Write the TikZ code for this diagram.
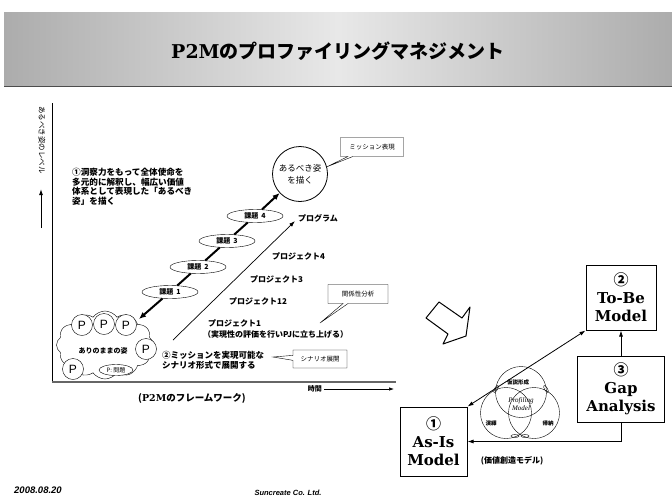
\documentclass[tikz,border=0pt]{standalone}
\usepackage{fontspec}
\setmainfont{Liberation Serif}
\newfontfamily\jp{Noto Sans CJK JP}
\newfontfamily\dvs{DejaVu Serif}
\newfontfamily\lsans{Liberation Sans}
\usetikzlibrary{shapes.geometric,shapes.symbols,shapes.callouts,arrows.meta}
\newcommand\fsz[2]{\fontsize{#1}{#2}\selectfont}
\begin{document}
\begin{tikzpicture}[x=1pt,y=-1pt,
  jtext/.style={font=\jp\bfseries\fsz{8}{10}, inner sep=0pt},
  kadai/.style={ellipse, draw, fill=white, minimum width=56pt, minimum height=13pt, inner sep=0pt, font=\jp\bfseries\fsz{7}{8}},
  chainline/.style={line width=2pt},
  pcirc/.style={circle, draw, fill=white, minimum size=21pt, inner sep=0pt, font=\lsans\fsz{12}{12}},
  callbox/.style={rectangle callout, draw, fill=white, font=\jp\fsz{6.5}{7}, inner sep=0pt, callout pointer width=5pt},
  model/.style={draw, line width=1pt, fill=white, align=center, font=\dvs\bfseries\fsz{15}{18}, inner sep=0pt},
  venn/.style={circle, draw, minimum size=51pt, inner sep=0pt},
  leaf/.style={ellipse, draw, minimum width=8pt, minimum height=3pt, inner sep=0pt},
  small/.style={font=\jp\bfseries\fsz{5.5}{6}, inner sep=0pt}]
\useasboundingbox (0,0) rectangle (672,499);
\fill[white] (0,0) rectangle (672,499);
% banner
\shade[left color=gray!65, right color=gray!65, middle color=gray!18] (4,12) rectangle (672,86);
\draw[black!70, line width=1pt] (4,86) -- (672,86);
\node[font=\jp\bfseries\fsz{19}{20}, inner sep=0pt] (title) at (338,51) {{\dvs\bfseries P2M}のプロファイリングマネジメント};
% axes
\coordinate (ytop) at (52,103);
\coordinate (origin) at (52,382);
\coordinate (xend) at (396,382);
\draw[line width=0.9pt] (ytop) -- (origin);
\draw[line width=1.6pt, gray!80!black] (origin) -- (xend);
\node[rotate=-90, anchor=west, font=\jp\fsz{7.5}{8}, inner sep=0pt] (ylab) at (42,106) {あるべき姿のレベル};
\coordinate (yarrb) at (41,228);
\coordinate (yarrt) at (41,189);
\draw[-{Latex[length=6pt,width=4pt]}, line width=1pt] (yarrb) -- (yarrt);
% note 1
\node[anchor=north west, align=left, font=\jp\bfseries\fsz{8.6}{9.6}, inner sep=0pt] (note1) at (72,168)
  {①洞察力をもって全体使命を\\多元的に解釈し、幅広い価値\\体系として表現した「あるべき\\姿」を描く};
% goal
\node[circle, draw, line width=0.8pt, minimum size=55pt, fill=white, align=center, inner sep=0pt, font=\jp\fsz{8.5}{12}] (goal) at (300,174) {あるべき姿\\を描く};
\node[callbox, minimum width=63pt, minimum height=19pt, callout absolute pointer={(goal.15)}] (mis) at (372,147) {ミッション表現};
% cloud
\node[cloud, draw, cloud puffs=12, cloud puff arc=110, aspect=1.5, minimum width=97pt, minimum height=68pt, inner sep=0pt] (cloud) at (105,345) {};
\node[pcirc] (p1) at (82,325) {P};
\node[pcirc] (p2) at (104,324) {P};
\node[pcirc] (p3) at (126,325) {P};
\node[pcirc] (p4) at (146,349) {P};
\node[pcirc] (p5) at (73,369) {P};
\node[font=\jp\bfseries\fsz{7}{8}, inner sep=0pt] (asislab) at (103,351) {ありのままの姿};
\node[ellipse, draw, fill=white, minimum width=34pt, minimum height=11pt, inner sep=0pt, font=\jp\fsz{6}{6}] (pq) at (116,370) {P: 問題};
% chain
\coordinate (ctip) at (139,319);
\node[kadai] (k1) at (170,292) {課題\ \ 1};
\node[kadai] (k2) at (198,267) {課題\ \ 2};
\node[kadai] (k3) at (227,241) {課題\ \ 3};
\node[kadai] (k4) at (255,216) {課題\ \ 4};
\draw[chainline, -{Latex[length=7pt,width=6pt]}] (k1) -- (ctip);
\draw[chainline] (k1) -- (k2);
\draw[chainline] (k2) -- (k3);
\draw[chainline] (k3) -- (k4);
\draw[chainline, -{Latex[length=7pt,width=6pt]}] (k4) -- (goal);
% program arrow
\coordinate (pstart) at (173,340);
\coordinate (ptip) at (295,221);
\draw[line width=0.7pt, -{Latex[length=6pt,width=4pt]}] (pstart) -- (ptip);
\node[jtext, anchor=west] (prog) at (298,218) {プログラム};
\node[jtext, anchor=west] (pj4) at (272,256) {プロジェクト4};
\node[jtext, anchor=west] (pj3) at (250,279) {プロジェクト3};
\node[jtext, anchor=west] (pj12) at (229,301) {プロジェクト12};
\node[jtext, anchor=west] (pj1) at (208,323) {プロジェクト1};
\node[jtext, anchor=west] (pj1b) at (203,334) {（実現性の評価を行いPJに立ち上げる）};
\node[callbox, minimum width=60pt, minimum height=19pt, callout absolute pointer={(320,323)}] (kan) at (358,294) {関係性分析};
\node[anchor=north west, align=left, font=\jp\bfseries\fsz{8.5}{10}, inner sep=0pt] (note2) at (162,351) {②ミッションを実現可能な\\シナリオ形式で展開する};
\node[callbox, minimum width=54pt, minimum height=18pt, callout absolute pointer={(273,357)}] (scen) at (320,359) {シナリオ展開};
% time axis label
\node[font=\jp\bfseries\fsz{7}{8}, inner sep=0pt, anchor=east] (time) at (322,389) {時間};
\coordinate (tstart) at (324,389);
\coordinate (tend) at (394,389);
\draw[line width=0.7pt, -{Latex[length=5pt,width=3.5pt]}] (tstart) -- (tend);
\node[font=\jp\bfseries\fsz{9.5}{10}, inner sep=0pt] (frame) at (192,398) {({\dvs\bfseries P2M}のフレームワーク)};
% hollow arrow
\draw[line width=1pt, line join=round] (439,302) -- (462,318) -- (470,307) -- (466,336) -- (443,344) -- (448,334) -- (426,318) -- cycle;
% models
\node[model, minimum width=70pt, minimum height=65pt] (tobe) at (621,297.5) {{\jp ②}\\To-Be\\Model};
\node[model, minimum width=87pt, minimum height=66pt] (gap) at (621,389) {{\jp ③}\\Gap\\Analysis};
\node[model, minimum width=67pt, minimum height=69pt] (asis) at (433.5,441.5) {{\jp ①}\\As-Is\\Model};
\draw[line width=0.8pt, {Latex[length=6pt,width=4pt]}-{Latex[length=6pt,width=4pt]}] (asis.north east) -- (tobe.south west);
\draw[line width=0.8pt, -{Latex[length=6pt,width=4pt]}] (gap.north) -- (tobe.south);
\draw[line width=0.8pt, -{Latex[length=6pt,width=4pt]}] (gap.south) |- (asis.east);
% venn
\node[venn] (vtop) at (521,392) {};
\node[venn] (vl) at (506,413) {};
\node[venn] (vr) at (534,413) {};
\node[leaf, rotate=60] (lf1) at (496,389) {};
\node[leaf, rotate=-60] (lf2) at (546,389) {};
\node[leaf] (lf3) at (515,436) {};
\node[leaf] (lf4) at (525,436) {};
\node[small] (kasetsu) at (518,382) {仮説形成};
\node[small] (eneki) at (491,423) {演繹};
\node[small] (kino) at (548,423) {帰納};
\node[font=\itshape\fsz{7}{8}, align=center, inner sep=0pt] (prof) at (521,404) {Profiling\\Model};
\node[font=\jp\bfseries\fsz{8}{9}, inner sep=0pt] (kachi) at (512,461) {(価値創造モデル)};
% footer
\node[font=\lsans\bfseries\itshape\fsz{9.5}{10}, anchor=west, inner sep=0pt] (date) at (14,490) {2008.08.20};
\node[font=\lsans\bfseries\itshape\fsz{7.5}{8}, inner sep=0pt] (corp) at (288,493) {Suncreate Co. Ltd.};
\end{tikzpicture}
\end{document}
